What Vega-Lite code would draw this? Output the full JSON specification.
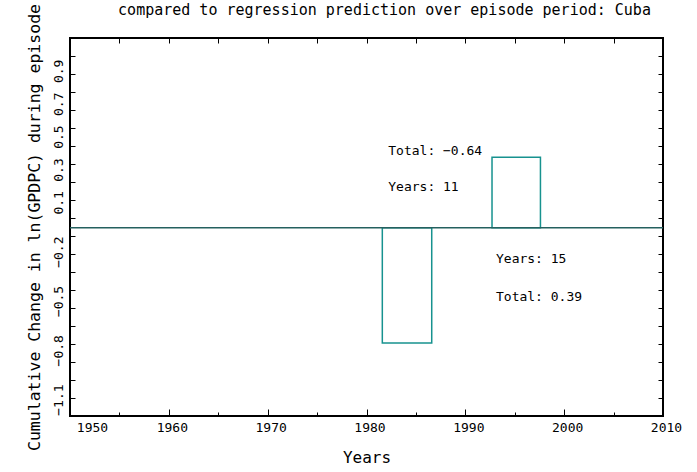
{
  "$schema": "https://vega.github.io/schema/vega-lite/v6.json",
  "width": 593,
  "height": 378,
  "autosize": {"type": "none"},
  "padding": {"left": 70, "top": 38, "right": 34, "bottom": 56},
  "background": "white",
  "title": {
    "text": "compared to regression prediction over episode period: Cuba",
    "font": "DejaVu Sans Mono",
    "fontSize": 15,
    "fontWeight": "normal",
    "color": "black",
    "anchor": "middle",
    "dx": 18,
    "baseline": "alphabetic",
    "offset": -27
  },
  "config": {"view": {"stroke": "black", "strokeWidth": 2}, "font": "DejaVu Sans Mono"},
  "datasets": {
    "episodes": [
      {"episode": "decline", "start": 1981.6, "end": 1986.6, "base": -0.055, "level": -0.756},
      {"episode": "growth", "start": 1992.7, "end": 1997.6, "base": -0.055, "level": 0.375}
    ],
    "notes": [
      {"year": 1982.2, "value": 0.411, "label": "Total: −0.64"},
      {"year": 1982.2, "value": 0.193, "label": "Years: 11"},
      {"year": 1993.1, "value": -0.245, "label": "Years: 15"},
      {"year": 1993.1, "value": -0.476, "label": "Total: 0.39"}
    ],
    "baseline": [{"level": -0.055}]
  },
  "resolve": {"axis": {"x": "independent", "y": "independent"}},
  "layer": [
    {
      "data": {"name": "episodes"},
      "mark": {"type": "rect", "filled": false, "stroke": "#17928f", "strokeWidth": 1.5},
      "encoding": {
        "x": {
          "field": "start", "type": "quantitative",
          "scale": {"domain": [1950, 2010], "nice": false, "zero": false},
          "axis": {
            "orient": "bottom",
            "values": [1950, 1955, 1960, 1965, 1970, 1975, 1980, 1985, 1990, 1995, 2000, 2005, 2010],
            "format": "d",
            "labelExpr": "datum.value % 10 === 0 ? datum.label : ''",
            "labelFont": "DejaVu Sans Mono", "labelFontSize": 13, "labelColor": "black",
            "labelFlush": false, "labelOverlap": false, "labelBound": false,
            "labelPadding": 12,
            "labelOffset": {"condition": {"test": "datum.value === 1950", "value": 22}, "value": 3},
            "tickSize": {"condition": {"test": "datum.value % 10 === 0", "value": -7}, "value": -4},
            "tickColor": "black",
            "domain": false, "grid": false,
            "title": "Years",
            "titleFont": "DejaVu Sans Mono", "titleFontSize": 16, "titleFontWeight": "normal",
            "titleColor": "black", "titlePadding": 12
          }
        },
        "x2": {"field": "end"},
        "y": {
          "field": "base", "type": "quantitative",
          "scale": {"domain": [-1.2, 1.1], "nice": false, "zero": false},
          "axis": {
            "orient": "left",
            "values": [-1.1, -0.8, -0.5, -0.2, 0.1, 0.3, 0.5, 0.7, 0.9, -1.0905, -0.981, -0.8714, -0.7619, -0.6524, -0.5429, -0.4333, -0.3238, -0.2143, -0.1048, 0.0048, 0.1143, 0.2238, 0.3333, 0.4429, 0.5524, 0.6619, 0.7714, 0.881, 0.9905],
            "labelExpr": "abs(datum.value*10 - round(datum.value*10)) < 0.001 ? format(datum.value, '.1f') : ''",
            "labelAngle": 270, "labelAlign": "center", "labelBaseline": "bottom",
            "labelFont": "DejaVu Sans Mono", "labelFontSize": 13, "labelColor": "black",
            "labelFlush": false, "labelOverlap": false, "labelBound": false,
            "labelPadding": 10,
            "tickSize": -5, "tickColor": "black",
            "tickOpacity": {"condition": {"test": "abs(datum.value*10 - round(datum.value*10)) < 0.001", "value": 0}, "value": 1},
            "domain": false, "grid": false,
            "title": "Cumulative Change in ln(GPDPC) during episode",
            "titleFont": "DejaVu Sans Mono", "titleFontSize": 16.5, "titleFontWeight": "normal",
            "titleColor": "black", "titlePadding": 10
          }
        },
        "y2": {"field": "level"}
      }
    },
    {
      "data": {"name": "notes"},
      "mark": {"type": "text", "align": "left", "baseline": "middle", "font": "DejaVu Sans Mono", "fontSize": 13, "color": "black"},
      "encoding": {
        "x": {
          "field": "year", "type": "quantitative",
          "scale": {"domain": [1950, 2010], "nice": false, "zero": false},
          "axis": {
            "orient": "top",
            "values": [1955, 1960, 1965, 1970, 1975, 1980, 1985, 1990, 1995, 2000, 2005],
            "labels": false, "tickSize": -5, "tickColor": "black",
            "domain": false, "grid": false, "title": null
          }
        },
        "y": {
          "field": "value", "type": "quantitative",
          "scale": {"domain": [-1.2, 1.1], "nice": false, "zero": false},
          "axis": {
            "orient": "right",
            "values": [-1.0905, -0.981, -0.8714, -0.7619, -0.6524, -0.5429, -0.4333, -0.3238, -0.2143, -0.1048, 0.0048, 0.1143, 0.2238, 0.3333, 0.4429, 0.5524, 0.6619, 0.7714, 0.881, 0.9905],
            "labels": false, "tickSize": -5, "tickColor": "black",
            "domain": false, "grid": false, "title": null
          }
        },
        "text": {"field": "label"}
      }
    },
    {
      "data": {"name": "baseline"},
      "mark": {"type": "rule", "color": "#24605f", "strokeWidth": 1.5},
      "encoding": {
        "y": {"field": "level", "type": "quantitative", "scale": {"domain": [-1.2, 1.1], "nice": false, "zero": false}, "axis": null}
      }
    }
  ]
}
